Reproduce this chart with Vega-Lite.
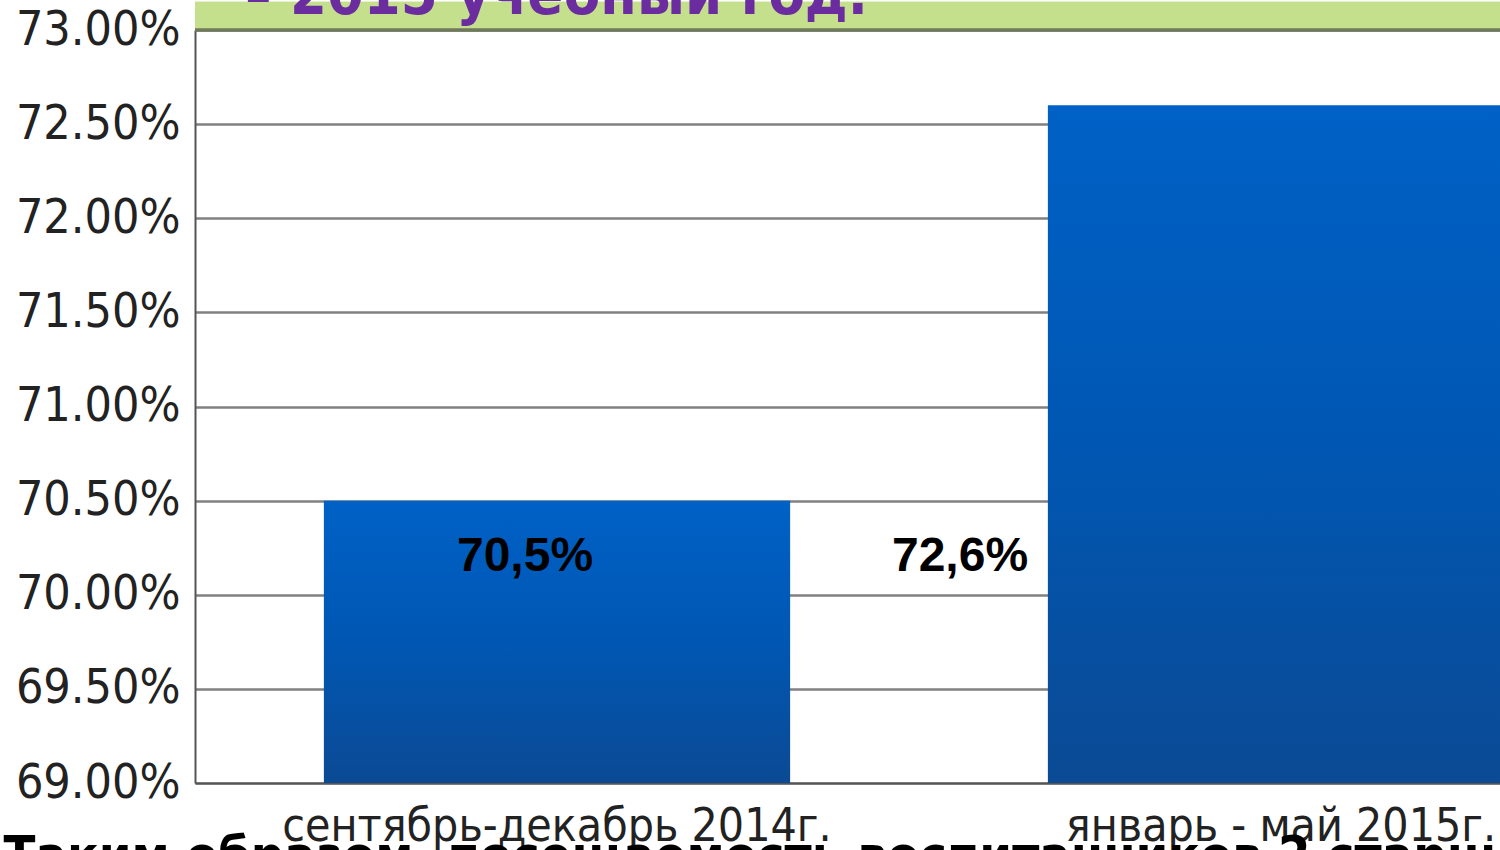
{
  "$schema": "https://vega.github.io/schema/vega-lite/v6.json",
  "width": 1305,
  "height": 753,
  "autosize": {"type": "none"},
  "padding": {"left": 195, "top": 30, "right": 0, "bottom": 67},
  "background": "white",
  "config": {"view": {"stroke": null}},
  "title": {
    "text": "– 2015 учебный год.",
    "anchor": "start",
    "frame": "group",
    "dx": 50,
    "dy": 71,
    "offset": 0,
    "baseline": "alphabetic",
    "fontSize": 59,
    "font": "DejaVu Sans Condensed",
    "fontWeight": "bold",
    "color": "#6A2C9E"
  },
  "data": {
    "values": [
      {"period": "сентябрь-декабрь 2014г.", "value": 0.705, "label": "70,5%"},
      {"period": "январь - май 2015г.", "value": 0.726, "label": "72,6%"}
    ]
  },
  "layer": [
    {
      "mark": {"type": "rect", "color": "#C4E08C", "clip": false},
      "encoding": {
        "y": {"datum": 0.7315, "type": "quantitative"},
        "y2": {"datum": 0.7300}
      }
    },
    {
      "mark": {
        "type": "bar",
        "color": {
          "gradient": "linear",
          "x1": 0, "y1": 0, "x2": 0, "y2": 1,
          "stops": [
            {"offset": 0, "color": "#0061C6"},
            {"offset": 0.5, "color": "#0057B3"},
            {"offset": 1, "color": "#0B4A94"}
          ]
        }
      },
      "encoding": {
        "x": {
          "field": "period",
          "type": "nominal",
          "sort": null,
          "scale": {"range": [0, 1448], "paddingInner": 0.356, "paddingOuter": 0.178},
          "axis": {
            "title": "Таким образом, посещаемость воспитанников 2 старшей группы",
            "titleFont": "DejaVu Sans Condensed",
            "titleFontSize": 52,
            "titleFontWeight": "bold",
            "titleColor": "#000000",
            "titleAnchor": "start",
            "titleAlign": "left",
            "titleBaseline": "top",
            "titleX": -192,
            "titleY": 48,
            "labelAngle": 0,
            "labelFont": "DejaVu Sans Condensed",
            "labelFontSize": 46,
            "labelColor": "#222222",
            "labelPadding": 21,
            "labelLimit": 0,
            "ticks": false,
            "domainColor": "#555555",
            "domainWidth": 2,
            "labelOverlap": false
          }
        },
        "y": {
          "field": "value",
          "type": "quantitative",
          "scale": {"domain": [0.69, 0.73], "zero": false, "nice": false},
          "axis": {
            "title": null,
            "format": ".2%",
            "values": [0.69, 0.695, 0.70, 0.705, 0.71, 0.715, 0.72, 0.725, 0.73],
            "labelFont": "DejaVu Sans Condensed",
            "labelFontSize": 48,
            "labelColor": "#222222",
            "labelPadding": 15,
            "ticks": false,
            "domainColor": "#555555",
            "domainWidth": 2,
            "grid": true,
            "gridColor": "#808080",
            "gridWidth": 2.5
          }
        },
        "y2": {"datum": 0.69}
      }
    },
    {
      "transform": [{"filter": "datum.label == '70,5%'"}],
      "mark": {"type": "text", "dx": -32, "font": "Liberation Sans", "fontWeight": "bold", "fontSize": 48, "color": "#000000", "baseline": "middle", "align": "center"},
      "encoding": {
        "x": {"field": "period", "type": "nominal", "sort": null},
        "y": {"datum": 0.702, "type": "quantitative"},
        "text": {"field": "label"}
      }
    },
    {
      "transform": [{"filter": "datum.label == '72,6%'"}],
      "mark": {"type": "text", "dx": -321, "font": "Liberation Sans", "fontWeight": "bold", "fontSize": 48, "color": "#000000", "baseline": "middle", "align": "center"},
      "encoding": {
        "x": {"field": "period", "type": "nominal", "sort": null},
        "y": {"datum": 0.702, "type": "quantitative"},
        "text": {"field": "label"}
      }
    },
    {
      "mark": {"type": "rule", "color": "#6F7A5A", "strokeWidth": 3},
      "encoding": {
        "y": {"datum": 0.73, "type": "quantitative"}
      }
    }
  ]
}
